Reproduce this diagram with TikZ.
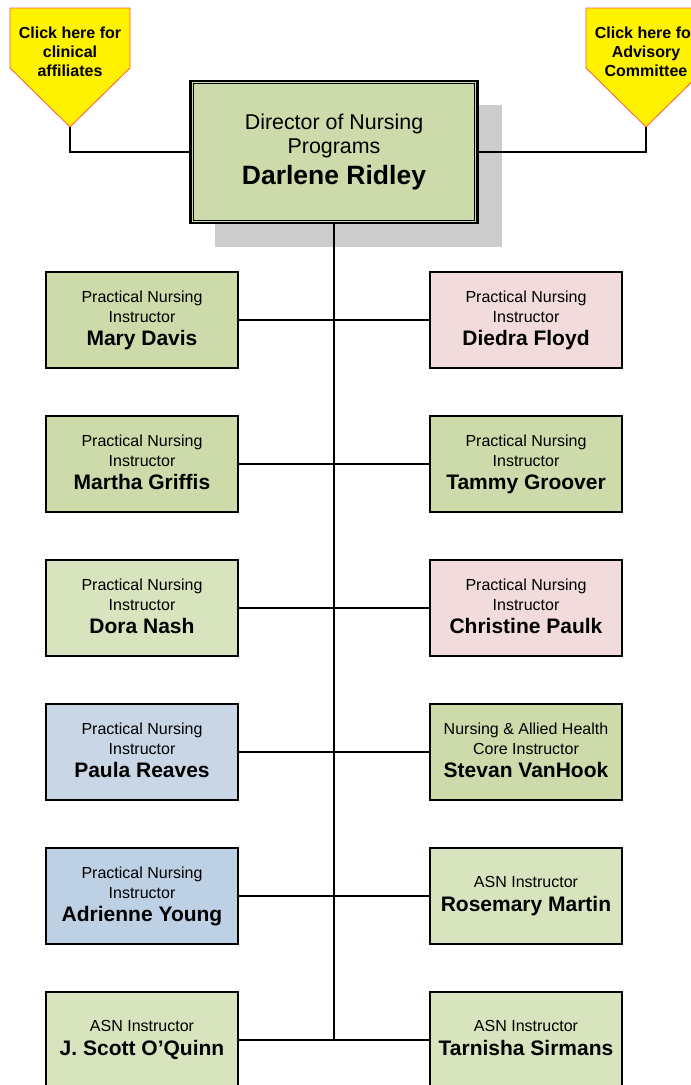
\documentclass[tikz,border=0pt]{standalone}
\usepackage{fontspec}
\setmainfont{Liberation Sans}
\usetikzlibrary{shadows}

\definecolor{olivebox}{RGB}{205,218,170}
\definecolor{palegreen}{RGB}{216,228,190}
\definecolor{pinkbox}{RGB}{242,220,219}
\definecolor{paleblue}{RGB}{200,214,230}
\definecolor{bluebox}{RGB}{190,208,228}
\definecolor{calloutred}{RGB}{250,90,60}

\newcommand{\staffname}[1]{{\fontsize{21}{24}\selectfont\bfseries #1\vphantom{Qy}}}

\tikzset{
  staffbox/.style={draw, line width=1.6pt, minimum width=192pt, minimum height=96pt,
    inner sep=0pt, align=center, font=\fontsize{16}{20}\selectfont},
  link/.style={line width=1.6pt},
  callout/.style={fill=yellow, draw=calloutred, line width=0.8pt},
  callouttext/.style={align=center, font=\fontsize{16}{19}\selectfont\bfseries}
}

\begin{document}
\begin{tikzpicture}[x=1pt, y=-1pt]
    \useasboundingbox (0,0) rectangle (691,1085);

    % Callouts
    \filldraw[callout] (10,8) -- (130,8) -- (130,68) -- (70,127) -- (10,68) -- cycle;
    \node[callouttext] (clinical) at (70,52) {Click here for\\clinical\\affiliates};
    \coordinate (clinicaltip) at (70,127);

    \filldraw[callout] (586,8) -- (706,8) -- (706,68) -- (646,127) -- (586,68) -- cycle;
    \node[callouttext] (advisory) at (646,52) {Click here for\\Advisory\\Committee};
    \coordinate (advisorytip) at (646,127);

    % Director
    \node[draw, line width=2.2pt, fill=olivebox,
          minimum width=287pt, minimum height=142pt, inner sep=0pt, align=center,
          font=\fontsize{21.4}{24}\selectfont,
          drop shadow={shadow xshift=24pt, shadow yshift=-24pt, fill=black!20, opacity=1}]
          (director) at (334,152)
          {Director of Nursing\\Programs\\[7pt]{\fontsize{26.5}{30}\selectfont\bfseries Darlene Ridley}};
    \draw[line width=1pt] ([xshift=4pt,yshift=-4pt]director.north west) rectangle ([xshift=-4pt,yshift=4pt]director.south east);

    % Left column
    \node[staffbox, fill=olivebox] (mary) at (142,320) {Practical Nursing\\Instructor\\[3pt]\staffname{Mary Davis}};
    \node[staffbox, fill=olivebox] (martha) at (142,464) {Practical Nursing\\Instructor\\[3pt]\staffname{Martha Griffis}};
    \node[staffbox, fill=palegreen] (dora) at (142,608) {Practical Nursing\\Instructor\\[3pt]\staffname{Dora Nash}};
    \node[staffbox, fill=paleblue] (paula) at (142,752) {Practical Nursing\\Instructor\\[3pt]\staffname{Paula Reaves}};
    \node[staffbox, fill=bluebox] (adrienne) at (142,896) {Practical Nursing\\Instructor\\[3pt]\staffname{Adrienne Young}};
    \node[staffbox, fill=palegreen] (scott) at (142,1040) {ASN Instructor\\[4pt]\staffname{J. Scott O’Quinn}};

    % Right column
    \node[staffbox, fill=pinkbox] (diedra) at (526,320) {Practical Nursing\\Instructor\\[3pt]\staffname{Diedra Floyd}};
    \node[staffbox, fill=olivebox] (tammy) at (526,464) {Practical Nursing\\Instructor\\[3pt]\staffname{Tammy Groover}};
    \node[staffbox, fill=pinkbox] (christine) at (526,608) {Practical Nursing\\Instructor\\[3pt]\staffname{Christine Paulk}};
    \node[staffbox, fill=olivebox] (stevan) at (526,752) {Nursing \& Allied Health\\Core Instructor\\[3pt]\staffname{Stevan VanHook}};
    \node[staffbox, fill=palegreen] (rosemary) at (526,896) {ASN Instructor\\[4pt]\staffname{Rosemary Martin}};
    \node[staffbox, fill=palegreen] (tarnisha) at (526,1040) {ASN Instructor\\[4pt]\staffname{Tarnisha Sirmans}};

    % Connectors
    \draw[link] (clinicaltip) |- (director.west);
    \draw[link] (director.east) -| (advisorytip);
    \coordinate (trunkend) at (director.south |- scott.east);
    \draw[link] (director.south) -- (trunkend);
    \draw[link] (mary.east) -- (diedra.west);
    \draw[link] (martha.east) -- (tammy.west);
    \draw[link] (dora.east) -- (christine.west);
    \draw[link] (paula.east) -- (stevan.west);
    \draw[link] (adrienne.east) -- (rosemary.west);
    \draw[link] (scott.east) -- (tarnisha.west);
\end{tikzpicture}
\end{document}
